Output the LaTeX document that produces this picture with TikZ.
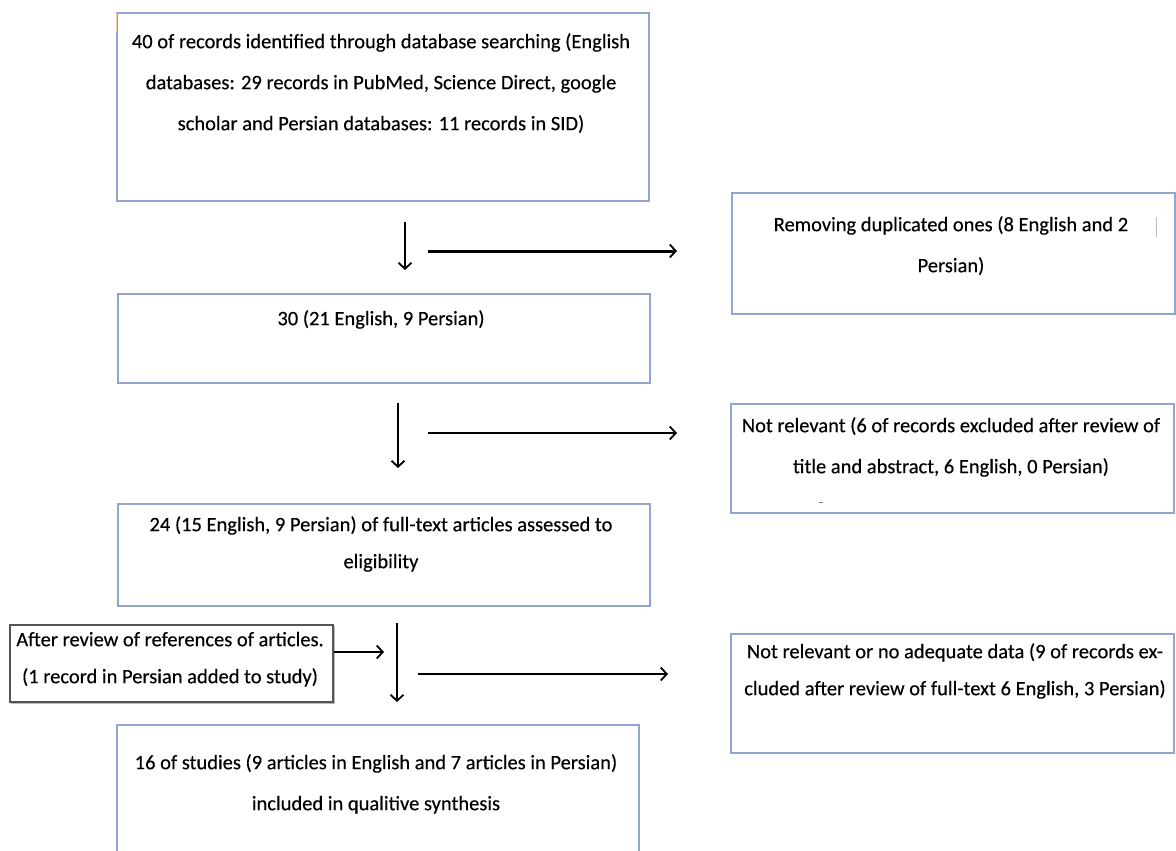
\documentclass[tikz,border=0pt]{standalone}
\usepackage{fontspec}
\setmainfont{Carlito}[FakeBold=0.3]
\usetikzlibrary{arrows.meta}
\definecolor{boxblue}{HTML}{8FA6CE}
\definecolor{sbgray}{HTML}{555555}
\definecolor{shgray}{HTML}{BBBBBB}
\definecolor{marktan}{HTML}{E8C9A0}
\newcommand\firstln{\rule{0pt}{20pt}}
\begin{document}
\begin{tikzpicture}[x=1pt,y=-1pt,
  box/.style={draw=boxblue,line width=1.9pt,inner sep=0pt,anchor=north west},
  txt/.style={font=\fontsize{20.5}{41}\selectfont,align=center,inner sep=0pt,anchor=north,yshift=20pt},
  txtb/.style={font=\fontsize{20.5}{37}\selectfont,align=center,inner sep=0pt,anchor=north,yshift=20pt},
  arr/.style={draw=black,line width=1.8pt,-{Straight Barb[length=6pt,width=13pt,line width=1.8pt]}},
  arrthick/.style={arr,line width=3pt},
  tinymark/.style={line width=1pt}]
\useasboundingbox (0,0) rectangle (1176,851);
\fill[white] (0,0) rectangle (1176,851);

% main column boxes
\node[box,minimum width=532pt,minimum height=188pt] (b1) at (116,12) {};
\node[box,minimum width=532pt,minimum height=89pt] (b2) at (117,293) {};
\node[box,minimum width=532pt,minimum height=102pt] (b3) at (117,503) {};
\draw[draw=boxblue,line width=1.9pt] (117,860) -- (117,725) -- (639,725) -- (639,860);
\coordinate (b4) at (378,725);

% right column boxes
\node[box,minimum width=443pt,minimum height=121pt] (r1) at (731,192) {};
\node[box,minimum width=443pt,minimum height=109pt] (r2) at (730,403) {};
\node[box,minimum width=443pt,minimum height=119pt] (r3) at (730,633) {};

% side box
\fill[shgray] (11,626) rectangle (335,704);
\node[draw=sbgray,fill=white,line width=1.6pt,inner sep=0pt,anchor=north west,minimum width=323pt,minimum height=77pt] (sb) at (9,624) {};

% texts
\node[txt] (t1) at (381,48) {\firstln 40 of records identified through database searching (English\\databases: 29 records in PubMed, Science Direct, google\\scholar and Persian databases: 11 records in SID)};
\node[txt] (t2) at (381,325) {\firstln 30 (21 English, 9 Persian)};
\node[txtb] (t3) at (381,531) {\firstln 24 (15 English, 9 Persian) of full-text articles assessed to\\eligibility};
\node[txt] (t4) at (376,769) {\firstln 16 of studies (9 articles in English and 7 articles in Persian)\\included in qualitive synthesis};
\node[txt] (tr1) at (951,231) {\firstln Removing duplicated ones (8 English and 2\\Persian)};
\node[txt] (tr2) at (951,432) {\firstln Not relevant (6 of records excluded after review of\\title and abstract, 6 English, 0 Persian)};
\node[txtb] (tr3) at (955,658) {\firstln Not relevant or no adequate data (9 of records ex-\\cluded after review of full-text 6 English, 3 Persian)};
\node[txtb] (tsb) at (170,646) {\firstln After review of references of articles.\\(1 record in Persian added to study)};

% small marks
\draw[marktan,tinymark] (116,13) -- (116,32);
\draw[shgray,tinymark] (1156,217) -- (1156,237);
\draw[gray,tinymark] (819,502) -- (823,502);

% arrows
\coordinate (a1s) at (405,222); \coordinate (a1e) at (405,270);
\coordinate (a2s) at (428,251); \coordinate (a2e) at (677,251);
\coordinate (a3s) at (398,403); \coordinate (a3e) at (398,468);
\coordinate (a4s) at (428,433); \coordinate (a4e) at (677,433);
\coordinate (a5s) at (334,652); \coordinate (a5e) at (384,652);
\coordinate (a6s) at (397,623); \coordinate (a6e) at (397,702);
\coordinate (a7s) at (418,674); \coordinate (a7e) at (668,674);
\draw[arr] (a1s) -- (a1e);
\draw[arrthick] (a2s) -- (a2e);
\draw[arr] (a3s) -- (a3e);
\draw[arr] (a4s) -- (a4e);
\draw[arr] (a5s) -- (a5e);
\draw[arr] (a6s) -- (a6e);
\draw[arr] (a7s) -- (a7e);
\end{tikzpicture}
\end{document}
